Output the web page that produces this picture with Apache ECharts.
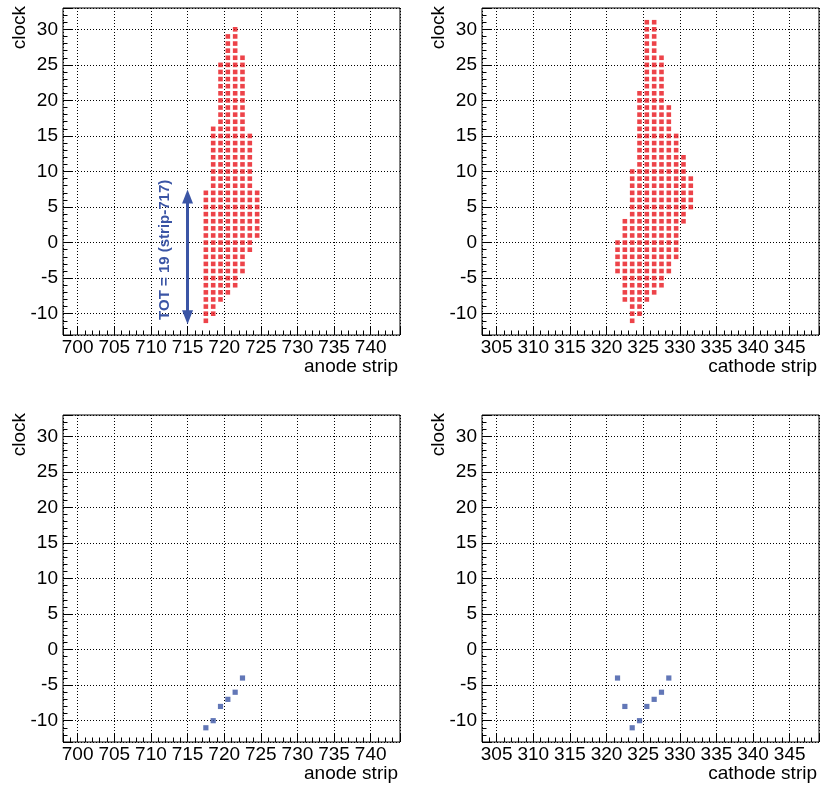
<!DOCTYPE html>
<html><head><meta charset="utf-8">
<script src="https://cdn.jsdelivr.net/npm/echarts@6/dist/echarts.min.js"></script>
<style>html,body{margin:0;padding:0;background:#fff}#c{width:822px;height:787px}</style>
</head><body><div id="c"></div>
<script>
// ---- data ----
// Top panels: every strip fires continuously from its first to its last clock
const anodeStrips      = [717, 718, 719, 720, 721, 722, 723, 724];
const anodeFirstClock  = [-11, -10,  -8,  -7,  -6,  -4,  -1,   1];
const anodeLastClock   = [  7,  16,  25,  29,  30,  26,  15,   7];
const cathodeStrips     = [321, 322, 323, 324, 325, 326, 327, 328, 329, 330, 331];
const cathodeFirstClock = [ -4,  -8, -11, -10,  -8,  -7,  -6,  -4,  -2,   3,   5];
const cathodeLastClock  = [  0,   3,  10,  21,  31,  31,  26,  19,  15,  12,   9];
// Bottom panels: single hits
const anodeHitStrips   = [717, 718, 719, 720, 721, 722];
const anodeHitClock    = [-11, -10,  -8,  -7,  -6,  -4];
const cathodeHitStrips = [321, 322, 323, 324, 325, 326, 327, 328];
const cathodeHitClock  = [ -4,  -8, -11, -10,  -8,  -7,  -6,  -4];
// axes
const anodeRange   = [698, 744];
const cathodeRange = [303, 349];
const clockRange   = [-13, 33];
const xTitles = ['anode strip', 'cathode strip', 'anode strip', 'cathode strip'];
const yTitle = 'clock';
const totLabel = 'TOT = 19 (strip-717)';
const totArrowStrip = 715;

// ---- layout / style ----
const W = 337, H = 327;
const panelPos = [[63, 8], [482, 8], [63, 415], [482, 415]];
const ranges = [anodeRange, cathodeRange, anodeRange, cathodeRange];
const FONT = 'Liberation Sans, Arial, Helvetica, sans-serif';
const RED = '#e8141c', BLUE = '#3b55a5';
const ARROW_HEAD = 1; // arrow head half-length, in clock units (so the tips sit on the bin edges)

// histogram bins: strip n covers [n, n+1)
function cells(strips, first, last) {
  const out = [];
  strips.forEach((s, i) => { for (let c = first[i]; c <= last[i]; c++) out.push([s + 0.5, c]); });
  return out;
}
function hits(strips, clocks) { return strips.map((s, i) => [s + 0.5, clocks[i]]); }

const grids = [], xAxes = [], yAxes = [], graphics = [];
const noLine = { show: false, onZero: false };
panelPos.forEach((p, k) => {
  grids.push({ left: p[0], top: p[1], width: W, height: H, show: true, borderColor: '#000', borderWidth: 1,
               backgroundColor: 'rgba(0,0,0,0)', containLabel: false, outerBoundsMode: 'none' });
  const lbl = { margin: 3, fontSize: 19, fontFamily: FONT, color: '#000',
                formatter: v => (Math.abs(v % 5) < 1e-9 ? String(v) : '') };
  const grid = { show: true, lineStyle: { color: '#000', width: 1, type: [1, 2] } };
  xAxes.push({ type: 'value', gridIndex: k, position: 'bottom', min: ranges[k][0], max: ranges[k][1], splitNumber: 9,
    axisLine: noLine, axisTick: { inside: true, length: 9, lineStyle: { color: '#000', width: 1 } },
    axisLabel: lbl, splitLine: grid });
  xAxes.push({ type: 'value', gridIndex: k, position: 'bottom', min: ranges[k][0], max: ranges[k][1], interval: 1,
    axisLine: noLine, axisTick: { inside: true, length: 4.5, lineStyle: { color: '#000', width: 1 } },
    axisLabel: { show: false }, splitLine: { show: false } });
  yAxes.push({ type: 'value', gridIndex: k, position: 'left', min: clockRange[0], max: clockRange[1], splitNumber: 9,
    axisLine: noLine, axisTick: { inside: true, length: 9, lineStyle: { color: '#000', width: 1 } },
    axisLabel: Object.assign({}, lbl, { margin: 5 }), splitLine: grid });
  yAxes.push({ type: 'value', gridIndex: k, position: 'left', min: clockRange[0], max: clockRange[1], interval: 1,
    axisLine: noLine, axisTick: { inside: true, length: 4.5, lineStyle: { color: '#000', width: 1 } },
    axisLabel: { show: false }, splitLine: { show: false } });
  graphics.push({ type: 'text', x: p[0] + W - 2, y: p[1] + H + 22,
    style: { text: xTitles[k], font: '19px ' + FONT, fill: '#000', textAlign: 'right', textVerticalAlign: 'top' } });
  graphics.push({ type: 'text', x: p[0] - 43, y: p[1] - 2, rotation: Math.PI / 2,
    style: { text: yTitle, font: '19px ' + FONT, fill: '#000', textAlign: 'right', textVerticalAlign: 'middle' } });
});

const sq = (data, k, color, size) => ({ type: 'scatter', xAxisIndex: 2 * k, yAxisIndex: 2 * k, data,
  symbol: 'rect', symbolSize: size, itemStyle: { color }, silent: true, z: 5 });

const totLow = anodeFirstClock[0] - 0.5, totHigh = anodeLastClock[0] + 0.5;
const s0 = sq(cells(anodeStrips, anodeFirstClock, anodeLastClock), 0, RED, 4.6);
s0.markLine = {
  silent: true, symbol: ['triangle', 'triangle'], symbolSize: [11, 14], z: 6,
  lineStyle: { color: BLUE, width: 3, type: 'solid' },
  label: { show: false },
  data: [[{ coord: [totArrowStrip, totLow + ARROW_HEAD] }, { coord: [totArrowStrip, totHigh - ARROW_HEAD] }]]
};

const option = {
  animation: false,
  backgroundColor: '#fff',
  grid: grids, xAxis: xAxes, yAxis: yAxes,
  series: [
    s0,
    sq(cells(cathodeStrips, cathodeFirstClock, cathodeLastClock), 1, RED, 4.6),
    sq(hits(anodeHitStrips, anodeHitClock), 2, BLUE, 5.2),
    sq(hits(cathodeHitStrips, cathodeHitClock), 3, BLUE, 5.2)
  ],
  graphic: graphics
};
const chart = echarts.init(document.getElementById('c'), null, { renderer: 'canvas' });
chart.setOption(option);

// TOT label placed next to the arrow, via the axis scales
const mid = chart.convertToPixel({ xAxisIndex: 0, yAxisIndex: 0 }, [totArrowStrip, (totLow + totHigh) / 2]);
chart.setOption({ graphic: graphics.concat([{
  type: 'text', x: mid[0] - 23, y: mid[1] - 7, rotation: Math.PI / 2, z: 10,
  style: { text: totLabel, font: 'bold 15px ' + FONT, fill: BLUE, textAlign: 'center', textVerticalAlign: 'middle' }
}]) });
</script>
</body></html>
